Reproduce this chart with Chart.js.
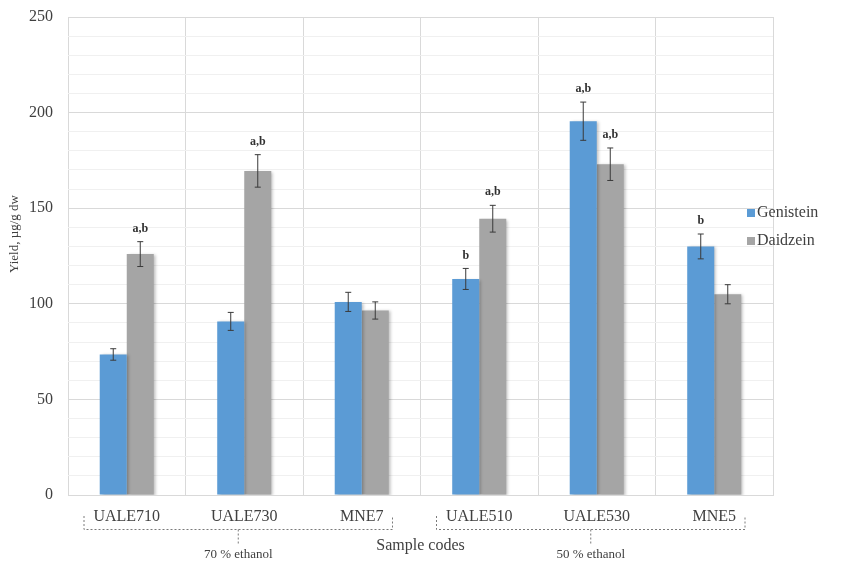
<!DOCTYPE html>
<html>
<head>
<meta charset="utf-8">
<script src="https://cdn.jsdelivr.net/npm/chart.js@4.4.0/dist/chart.umd.min.js"></script>
<style>
  html, body { margin: 0; padding: 0; background: #fff; }
  #wrap { width: 865px; height: 564px; }
</style>
</head>
<body>
<div id="wrap"><canvas id="my-chart" width="865" height="564"></canvas></div>
<script>
'use strict';

//chart data
let sampleCodes = ['UALE710', 'UALE730', 'MNE7', 'UALE510', 'UALE530', 'MNE5'];
let genistein = [73.5, 90.8, 101, 113, 195.5, 130];
let daidzein = [126, 169.5, 96.5, 144.5, 173, 105];
let genisteinErr = [3, 4.7, 5, 5.5, 10, 6.5];
let daidzeinErr = [6.5, 8.5, 4.5, 7, 8.5, 5];
let genisteinSig = ['', '', '', 'b', 'a,b', 'b'];
let daidzeinSig = ['a,b', 'a,b', '', 'a,b', 'a,b', ''];
let yTicks = [0, 50, 100, 150, 200, 250];

const serif = '"Liberation Serif", "DejaVu Serif", serif';
const textColor = '#404040';
const ctx = document.getElementById('my-chart').getContext('2d');

//error bars + significance letters
const errorBars = {
  id: 'errorBars',
  afterDatasetsDraw(chart) {
    let c = chart.ctx;
    let yScale = chart.scales.y;
    c.save();
    chart.data.datasets.forEach((ds, di) => {
      let meta = chart.getDatasetMeta(di);
      meta.data.forEach((bar, i) => {
        let v = ds.data[i];
        let e = ds.err[i];
        let top = yScale.getPixelForValue(v + e);
        let bottom = yScale.getPixelForValue(v - e);
        c.strokeStyle = '#3a3a3a';
        c.lineWidth = 1;
        c.beginPath();
        c.moveTo(bar.x, top);
        c.lineTo(bar.x, bottom);
        c.moveTo(bar.x - 3, top);
        c.lineTo(bar.x + 3, top);
        c.moveTo(bar.x - 3, bottom);
        c.lineTo(bar.x + 3, bottom);
        c.stroke();
        if (ds.sig[i]) {
          c.fillStyle = '#303030';
          c.font = 'bold 12px ' + serif;
          c.textAlign = 'center';
          c.textBaseline = 'middle';
          c.fillText(ds.sig[i], bar.x, top - 13);
        }
      });
    });
    c.restore();
  }
};

//bar shadow like the office chart
const barShadow = {
  id: 'barShadow',
  beforeDatasetsDraw(chart) {
    let c = chart.ctx;
    c.save();
    c.shadowColor = 'rgba(0,0,0,0.25)';
    c.shadowBlur = 3;
    c.shadowOffsetX = 2;
    c.shadowOffsetY = 1;
  },
  afterDatasetsDraw(chart) {
    chart.ctx.restore();
  }
};

//legend, axis title, brackets and group notes
const extras = {
  id: 'extras',
  afterDraw(chart) {
    let c = chart.ctx;
    let x = chart.scales.x;
    c.save();
    //y axis title
    c.save();
    c.translate(15, 234);
    c.rotate(-Math.PI / 2);
    c.font = '13px ' + serif;
    c.fillStyle = textColor;
    c.textAlign = 'center';
    c.textBaseline = 'middle';
    c.fillText('Yield, µg/g dw', 0, 0);
    c.restore();

    //legend
    c.font = '16px ' + serif;
    c.textAlign = 'left';
    c.textBaseline = 'middle';
    chart.data.datasets.forEach((ds, i) => {
      let ly = 213 + i * 28;
      c.fillStyle = ds.backgroundColor;
      c.fillRect(747, ly - 4, 8, 8);
      c.fillStyle = textColor;
      c.fillText(ds.label, 757, ly);
    });

    //dashed brackets under the sample codes
    let half = (x.getPixelForValue(1) - x.getPixelForValue(0)) / 2;
    let groups = [
      { from: 0, to: 2, note: '70 % ethanol' },
      { from: 3, to: 5, note: '50 % ethanol' }
    ];
    c.strokeStyle = '#7a7a7a';
    c.lineWidth = 1;
    c.setLineDash([2, 2]);
    groups.forEach(g => {
      let x1 = x.getPixelForValue(g.from) - half + 16;
      let x2 = x.getPixelForValue(g.to) + half - 28;
      let mid = (x1 + x2) / 2;
      c.beginPath();
      c.moveTo(x1, 516);
      c.lineTo(x1, 529.5);
      c.lineTo(x2, 529.5);
      c.lineTo(x2, 516);
      c.moveTo(mid, 529.5);
      c.lineTo(mid, 545);
      c.stroke();
      c.fillStyle = textColor;
      c.font = '13px ' + serif;
      c.textAlign = 'center';
      c.fillText(g.note, mid, 555);
    });
    c.restore();
  }
};

const myObj = {
  type: 'bar',
  data: {
    labels: sampleCodes,
    datasets: [{
      label: 'Genistein',
      data: genistein,
      err: genisteinErr,
      sig: genisteinSig,
      backgroundColor: '#5b9bd5',
      borderWidth: 0
    },
    {
      label: 'Daidzein',
      data: daidzein,
      err: daidzeinErr,
      sig: daidzeinSig,
      backgroundColor: '#a5a5a5',
      borderWidth: 0
    }]
  },
  options: {
    responsive: false,
    animation: false,
    layout: { padding: { left: 0, top: 17, right: 92, bottom: 0 } },
    datasets: {
      bar: { categoryPercentage: 0.46, barPercentage: 1 }
    },
    plugins: {
      legend: { display: false },
      tooltip: { enabled: false }
    },
    scales: {
      x: {
        grid: { color: '#d9d9d9', drawTicks: false, offset: true },
        border: { color: '#d9d9d9' },
        ticks: { color: textColor, font: { family: serif, size: 16 }, padding: 12 },
        title: {
          display: true,
          text: 'Sample codes',
          color: textColor,
          font: { family: serif, size: 16 },
          padding: { top: 0, bottom: 9 }
        },
        afterFit(scale) {
          scale.height = 69;
          scale.paddingLeft = 0;
          scale.paddingRight = 0;
        }
      },
      y: {
        min: 0,
        max: 250,
        grid: {
          drawTicks: false,
          color: c => (c.tick && c.tick.value % 50 === 0) ? '#d9d9d9' : '#f0f0f0'
        },
        border: { display: false },
        ticks: {
          stepSize: 10,
          autoSkip: false,
          padding: 15,
          color: textColor,
          font: { family: serif, size: 16 },
          callback: v => yTicks.includes(v) ? v : ''
        },
        afterFit(scale) {
          scale.width = 68;
          scale.paddingTop = 0;
          scale.paddingBottom = 0;
        }
      }
    }
  },
  plugins: [barShadow, errorBars, extras]
};

const myChart = new Chart(ctx, myObj);
</script>
</body>
</html>
